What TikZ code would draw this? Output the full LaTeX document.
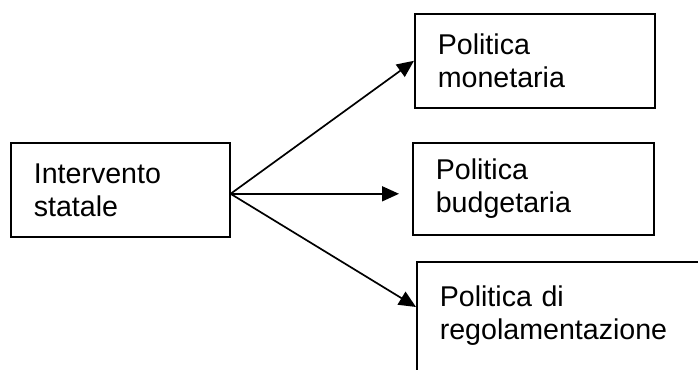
\documentclass[tikz,border=0pt]{standalone}
\usepackage{fontspec}
\setmainfont{Liberation Sans}
\usetikzlibrary{calc}
\usetikzlibrary{arrows.meta}

\begin{document}
\begin{tikzpicture} [x=.5pt, y=-.5pt,
  box/.style={draw, line width=.8pt, anchor=north west, align=left, inner xsep=11.5pt, inner ysep=0pt,
    font=\fontsize{14.3}{16.5}\selectfont}]
\useasboundingbox (0,0) rectangle (698,370);
\clip (0,0) rectangle (698,370);
\node[box, text width=86.5pt, minimum height=47pt] (intervento) at (10,142) {Intervento\\statale};
\node[box, text width=97pt, minimum height=47pt] (monetaria) at (414,13) {Politica\\monetaria};
\node[box, text width=97.5pt, minimum height=46pt] (budgetaria) at (412,142) {Politica\\budgetaria};
\node[box, text width=170pt, inner ysep=12pt, text depth=40pt] (regolamentazione) at (416,261) {Politica di\\regolamentazione};
\coordinate (hub) at ([yshift=-2pt]intervento.east);
\coordinate (regin) at ([yshift=-23pt]regolamentazione.north west);
\draw[black, line width=.85pt, ->, >={Triangle[length=8.5pt,width=7.5pt]}] (hub)--(monetaria.west);
\draw[black, line width=.85pt, ->, >={Triangle[length=8.5pt,width=7.5pt]}, shorten >=6.5pt] (hub)--(hub -| budgetaria.west);
\draw[black, line width=.85pt, ->, >={Triangle[length=8.5pt,width=7.5pt]}] (hub)--(regin);
\end{tikzpicture}
\end{document}
